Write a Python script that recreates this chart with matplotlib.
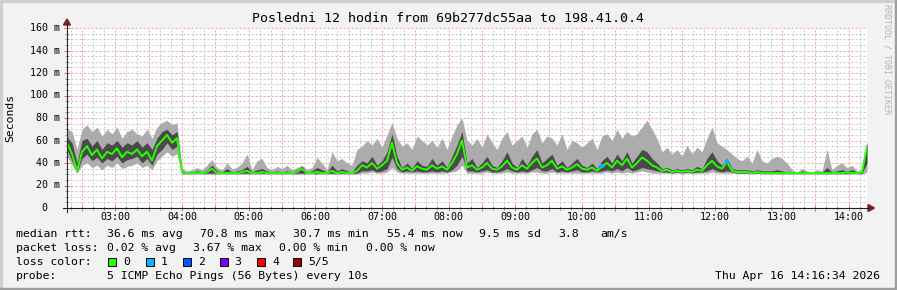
import numpy as np
import matplotlib
matplotlib.use("Agg")
import matplotlib.pyplot as plt
from matplotlib.patches import Rectangle, Polygon
from matplotlib.lines import Line2D
from matplotlib.transforms import blended_transform_factory

W, H = 897, 290
MONO = "DejaVu Sans Mono"

TITLE = "Posledni 12 hodin from 69b277dc55aa to 198.41.0.4"
START_HOUR = 2 + 16 / 60 + 34 / 3600   # left edge of the graph, 02:16:34
STEP_MIN = 4.5                          # one sample every 4.5 minutes
HOUR_TICKS = list(range(3, 15))
Y_TICKS = [0, 20, 40, 60, 80, 100, 120, 140, 160]
Y_LABELS = ["0", "20 m", "40 m", "60 m", "80 m", "100 m", "120 m", "140 m", "160 m"]

# rtt values in ms (rows of 10 samples)
median = [
    58, 48, 33, 50, 55, 47, 52, 44, 50, 48,
    53, 45, 50, 48, 52, 46, 50, 42, 55, 60,
    65, 58, 62, 32, 31, 31, 31, 31, 32, 35,
    31, 31, 31, 31, 31, 32, 33, 31, 31, 32,
    31, 31, 31, 31, 31, 31, 32, 35, 31, 31,
    32, 31, 31, 33, 31, 32, 31, 31, 33, 38,
    36, 40, 35, 38, 42, 58, 40, 34, 36, 33,
    37, 35, 34, 38, 35, 37, 34, 40, 48, 60,
    36, 38, 34, 36, 40, 35, 34, 37, 42, 36,
    34, 38, 35, 40, 44, 36, 38, 42, 35, 37,
    34, 36, 39, 35, 34, 36, 33, 37, 40, 36,
    42, 38, 44, 36, 40, 45, 42, 38, 36, 33,
    34, 32, 33, 32, 33, 32, 34, 33, 38, 42,
    37, 35, 41, 33, 32, 32, 32, 31, 32, 31,
    31, 31, 31, 31, 31, 31, 31, 31, 31, 31,
    31, 31, 31, 31, 31, 31, 32, 31, 31, 32,
    55,
]
ping_min = [
    46, 38, 31, 38, 40, 36, 38, 34, 38, 36,
    40, 35, 37, 38, 40, 36, 38, 34, 42, 46,
    50, 46, 48, 30, 30, 30, 30, 30, 30, 30,
    30, 30, 30, 30, 30, 30, 30, 30, 30, 30,
    30, 30, 30, 30, 30, 30, 30, 30, 30, 30,
    30, 30, 30, 30, 30, 30, 30, 30, 30, 31,
    31, 32, 31, 31, 32, 36, 32, 31, 31, 31,
    31, 31, 31, 31, 31, 31, 31, 32, 33, 38,
    31, 31, 31, 31, 32, 31, 31, 31, 32, 31,
    31, 31, 31, 32, 32, 31, 31, 32, 31, 31,
    31, 31, 31, 31, 31, 31, 31, 31, 32, 31,
    32, 31, 32, 31, 32, 33, 32, 31, 31, 31,
    31, 31, 31, 31, 31, 31, 31, 31, 31, 32,
    31, 31, 31, 31, 31, 31, 31, 30, 31, 30,
    30, 30, 30, 30, 30, 30, 30, 30, 30, 30,
    30, 30, 30, 30, 30, 30, 30, 30, 30, 30,
    32,
]
ping_q1 = [
    52, 42, 32, 44, 48, 42, 45, 40, 44, 42,
    46, 40, 43, 44, 46, 40, 44, 38, 48, 52,
    58, 52, 55, 31, 31, 31, 31, 31, 31, 31,
    31, 31, 31, 31, 31, 31, 31, 31, 31, 31,
    31, 31, 31, 31, 31, 31, 31, 31, 31, 31,
    31, 31, 31, 31, 31, 31, 31, 31, 31, 33,
    33, 34, 32, 33, 35, 45, 35, 32, 33, 32,
    33, 32, 32, 33, 32, 33, 32, 34, 38, 46,
    33, 33, 32, 33, 34, 32, 32, 33, 35, 33,
    32, 33, 32, 34, 36, 33, 33, 35, 32, 33,
    32, 33, 34, 32, 32, 33, 32, 33, 34, 33,
    35, 33, 36, 33, 34, 36, 35, 34, 33, 32,
    32, 31, 32, 31, 32, 31, 32, 32, 33, 35,
    33, 32, 33, 32, 31, 31, 31, 31, 31, 31,
    31, 31, 31, 31, 31, 31, 31, 31, 31, 31,
    31, 31, 31, 31, 31, 31, 31, 31, 31, 31,
    40,
]
ping_q3 = [
    63, 58, 40, 60, 62, 55, 60, 52, 58, 56,
    60, 54, 58, 56, 60, 54, 58, 52, 62, 68,
    70, 65, 68, 33, 32, 32, 33, 32, 34, 38,
    33, 32, 35, 32, 33, 34, 37, 32, 34, 35,
    33, 32, 33, 32, 33, 32, 34, 37, 32, 33,
    36, 34, 32, 38, 33, 35, 33, 32, 38, 42,
    40, 46, 38, 42, 50, 66, 46, 36, 40, 35,
    42, 38, 37, 44, 38, 42, 36, 46, 56, 68,
    40, 44, 36, 40, 46, 38, 36, 42, 50, 40,
    36, 44, 38, 46, 52, 40, 44, 48, 38, 42,
    36, 40, 44, 38, 36, 40, 35, 42, 46, 40,
    48, 42, 50, 40, 46, 52, 50, 44, 40, 35,
    36, 34, 35, 34, 35, 34, 37, 35, 44, 50,
    42, 38, 44, 35, 34, 34, 34, 33, 34, 33,
    33, 33, 34, 33, 32, 32, 31, 33, 32, 31,
    32, 32, 36, 32, 33, 34, 33, 34, 32, 32,
    58,
]
ping_max = [
    70, 68, 52, 70, 74, 68, 72, 64, 70, 66,
    72, 62, 68, 70, 66, 64, 70, 62, 72, 76,
    78, 74, 76, 35, 33, 34, 36, 34, 38, 43,
    36, 34, 40, 35, 36, 40, 48, 34, 42, 44,
    36, 34, 37, 35, 38, 34, 36, 38, 34, 36,
    45, 40, 34, 50, 42, 44, 40, 38, 52, 55,
    60, 56, 62, 54, 65, 76, 62, 55, 58, 52,
    64, 60, 56, 60, 54, 62, 52, 64, 74, 80,
    60, 56, 62, 54, 66, 58, 52, 62, 68, 56,
    60, 64, 54, 66, 70, 58, 64, 62, 56, 66,
    52, 60, 58, 54, 58, 62, 52, 64, 66, 60,
    70, 62, 68, 64, 66, 72, 78, 70, 62, 50,
    54, 48, 52, 46, 56, 48, 54, 50, 62, 72,
    58, 55, 52, 48, 44, 42, 46, 40, 52, 42,
    40, 44, 46, 44, 40, 34, 32, 35, 33, 32,
    34, 33, 52, 34, 38, 40, 36, 38, 33, 34,
    60,
]
# samples where one ping of five was lost
loss_index = [107, 132]
loss_value = [1, 1]

loss_colors = ["#26ff00", "#00b8ff", "#0059ff", "#7e00ff", "#ff0000", "#a10000"]
loss_names = ["0", "1", "2", "3", "4", "5/5"]

rtt_parts = ["median rtt:", "36.6 ms avg", "70.8 ms max", "30.7 ms min",
             "55.4 ms now", "9.5 ms sd", "3.8", "am/s"]
loss_parts = ["packet loss:", "0.02 % avg", "3.67 % max", "0.00 % min", "0.00 % now"]
probe_parts = ["probe:", "5 ICMP Echo Pings (56 Bytes) every 10s"]
stamp = "Thu Apr 16 14:16:34 2026"


def fx(x):
    return x / W


def fy(y):
    return 1 - y / H


fig = plt.figure(figsize=(W / 100, H / 100), dpi=100, facecolor="#f2f2f2")
ax = fig.add_axes([fx(67), fy(208), 800 / W, 180 / H])
ax.set_facecolor("white")
ax.set_xlim(0, 12)
ax.set_ylim(0, 160)
for s in ax.spines.values():
    s.set_visible(False)

grid_c = "#c8c8c8"
mgrid_c = "#eea0a0"
dash = (0, (2, 2))

# grid: 10 min / 30 min, 5 ms / 20 ms
minutes = np.arange(140, 14 * 60 + 17, 10)
ax.set_xticks([m / 60 - START_HOUR for m in minutes if m % 30 == 0])
ax.set_xticks([m / 60 - START_HOUR for m in minutes if m % 30 != 0], minor=True)
ax.set_yticks(Y_TICKS)
ax.set_yticks([v for v in range(5, 161, 5) if v % 20 != 0], minor=True)
ax.tick_params(which="major", direction="inout", length=4.3, width=0.72, color="#e07070",
               labelbottom=False, labelleft=False)
ax.tick_params(which="minor", direction="inout", length=2.9, width=0.72, color="#9a9a9a")
ax.grid(which="major", color=mgrid_c, lw=0.72, ls=dash, zorder=1)
ax.grid(which="minor", color=grid_c, lw=0.72, ls=dash, zorder=1)
ax.set_axisbelow(True)

# smoke and median
t = np.arange(len(median)) * STEP_MIN / 60
ax.fill_between(t, ping_min, ping_max, color="#acacac", lw=0, zorder=2)
ax.fill_between(t, ping_q1, ping_q3, color="#4a4a4a", lw=0, zorder=3)
ax.plot(t, median, color=loss_colors[0], lw=1.4, zorder=4)
for i, lv in zip(loss_index, loss_value):
    ax.plot(t[i], median[i], marker="s", ms=2.6, mew=0, color=loss_colors[lv], zorder=5)

# axis lines and arrows
fig.add_artist(Line2D([fx(67), fx(67)], [fy(212), fy(24)], color="#2a2a2a", lw=0.8))
fig.add_artist(Line2D([fx(63), fx(869)], [fy(208), fy(208)], color="#1f1f1f", lw=0.8))
fig.add_artist(Polygon([[fx(63.5), fy(25)], [fx(70.5), fy(25)], [fx(67), fy(19)]],
                       closed=True, color="#801f1f", transform=fig.transFigure))
fig.add_artist(Polygon([[fx(868), fy(204.5)], [fx(868), fy(211.5)], [fx(874.5), fy(208)]],
                       closed=True, color="#801f1f", transform=fig.transFigure))

# tick labels
xtr = blended_transform_factory(ax.transData, fig.transFigure)
for h in HOUR_TICKS:
    ax.text(h - START_HOUR, fy(217), f"{h:02d}:00", transform=xtr, ha="center",
            va="center", family=MONO, size=7.2)
ytr = blended_transform_factory(fig.transFigure, ax.transData)
for v, lab in zip(Y_TICKS, Y_LABELS):
    xl = 59.5 if lab.endswith("m") else 47.5
    ax.text(fx(xl), v, lab, transform=ytr, ha="right", va="center", family=MONO, size=7.2)

fig.text(fx(448), fy(19), TITLE, ha="center", va="center", family=MONO, size=9.6)
fig.text(fx(10), fy(118), "Seconds", rotation=90, ha="center", va="center",
         family=MONO, size=8.2)
fig.text(fx(887), fy(59), "RRDTOOL / TOBI OETIKER", rotation=270, ha="center",
         va="center", family=MONO, size=6, color="#b4b4b4")

# legend rows
LEG = 8.25
rtt_x = [16, 107.3, 200, 292.7, 386.7, 479.3, 558.3, 600.7]
loss_x = [16, 107.3, 193, 279.3, 366]
for s, x in zip(rtt_parts, rtt_x):
    fig.text(fx(x), fy(234), s, va="center", family=MONO, size=LEG)
for s, x in zip(loss_parts, loss_x):
    fig.text(fx(x), fy(248), s, va="center", family=MONO, size=LEG)
fig.text(fx(16), fy(262), "loss color:", va="center", family=MONO, size=LEG)
sq_x = [108, 145.5, 183, 219.5, 257, 293]
for c, name, x in zip(loss_colors, loss_names, sq_x):
    fig.add_artist(Rectangle((fx(x), fy(266)), 8 / W, 8 / H, facecolor=c,
                             edgecolor="black", lw=0.7, transform=fig.transFigure))
    fig.text(fx(x + 15), fy(262), name, va="center", family=MONO, size=LEG)
fig.text(fx(16), fy(276), probe_parts[0], va="center", family=MONO, size=LEG)
fig.text(fx(107.3), fy(276), probe_parts[1], va="center", family=MONO, size=LEG)
fig.text(fx(880), fy(276), stamp, ha="right", va="center", family=MONO, size=LEG)

# 3d frame
fig.add_artist(Rectangle((0, fy(2)), 1, 2 / H, color="#cfcfcf", transform=fig.transFigure))
fig.add_artist(Rectangle((0, 0), 2 / W, 1, color="#cfcfcf", transform=fig.transFigure))
fig.add_artist(Rectangle((fx(895), 0), 2 / W, 1, color="#9e9e9e", transform=fig.transFigure))
fig.add_artist(Rectangle((0, 0), 1, 2 / H, color="#9e9e9e", transform=fig.transFigure))

fig.savefig("out.png", dpi=100, facecolor=fig.get_facecolor())
